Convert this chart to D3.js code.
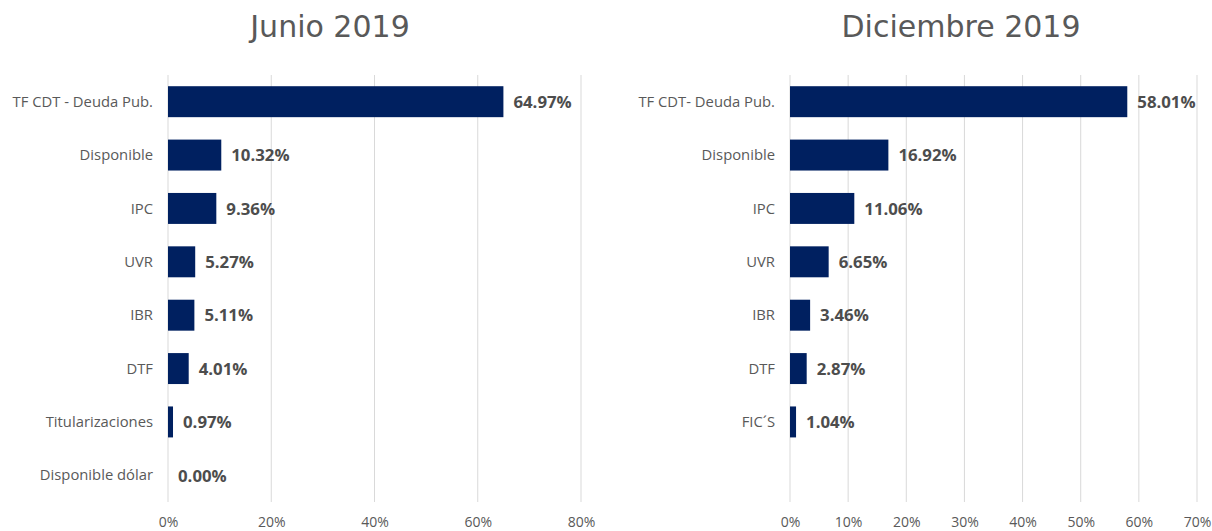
<!DOCTYPE html>
<html>
<head>
<meta charset="utf-8">
<script src="https://cdn.jsdelivr.net/npm/d3@7"></script>
<style>
  body { margin: 0; background: #fff; }
  svg { display: block; }
</style>
</head>
<body>
<svg class="chart" width="1212" height="531"></svg>
<script>
// data
let juneCategories = ["TF CDT - Deuda Pub.", "Disponible", "IPC", "UVR", "IBR", "DTF", "Titularizaciones", "Disponible dólar"];
let juneValues = [64.97, 10.32, 9.36, 5.27, 5.11, 4.01, 0.97, 0.00];
let juneTicks = [0, 20, 40, 60, 80];

let decCategories = ["TF CDT- Deuda Pub.", "Disponible", "IPC", "UVR", "IBR", "DTF", "FIC\u00b4S"];
let decValues = [58.01, 16.92, 11.06, 6.65, 3.46, 2.87, 1.04];
let decTicks = [0, 10, 20, 30, 40, 50, 60, 70];

let rows = 8; // both panels use the same row slots

let svg = d3.select(".chart");

let drawPanel = function(opts)
{
  let g = svg.append("g");

  let x = d3.scaleLinear()
    .domain([0, d3.max(opts.ticks)])
    .range([opts.left, opts.right]);

  let y = d3.scaleBand()
    .domain(d3.range(rows))
    .range([opts.top, opts.bottom])
    .paddingInner(0.42)
    .paddingOuter(0.21);

  // gridlines
  g.selectAll("line.grid")
    .data(opts.ticks)
    .join("line")
      .attr("class", "grid")
      .attr("x1", d => x(d)).attr("x2", d => x(d))
      .attr("y1", opts.top).attr("y2", opts.bottom)
      .attr("stroke", "#d9d9d9")
      .attr("stroke-width", 1);

  // x axis labels
  let xAxis = d3.axisBottom(x)
    .tickValues(opts.ticks)
    .tickFormat(d => d + "%")
    .tickSize(0)
    .tickPadding(0);
  let xg = g.append("g")
    .attr("transform", translate(0, opts.bottom + 15))
    .call(xAxis);
  xg.select(".domain").remove();
  xg.selectAll("text")
    .attr("font-family", "'Open Sans', sans-serif")
    .attr("font-size", 14)
    .attr("fill", "#595959");

  // category labels
  g.selectAll("text.cat")
    .data(opts.categories)
    .join("text")
      .attr("class", "cat")
      .attr("x", x(0) - 15)
      .attr("y", (d, i) => y(i) + y.bandwidth() / 2)
      .attr("dy", "0.35em")
      .attr("text-anchor", "end")
      .attr("font-family", "'Open Sans', sans-serif")
      .attr("font-size", 14.8)
      .attr("fill", "#595959")
      .text(d => d);

  // bars
  g.selectAll("rect.bar")
    .data(opts.values)
    .join("rect")
      .attr("class", "bar")
      .attr("x", x(0))
      .attr("y", (d, i) => y(i))
      .attr("width", d => x(d) - x(0))
      .attr("height", y.bandwidth())
      .attr("fill", "#002060");

  // value labels
  g.selectAll("text.val")
    .data(opts.values)
    .join("text")
      .attr("class", "val")
      .attr("x", d => x(d) + 10)
      .attr("y", (d, i) => y(i) + y.bandwidth() / 2)
      .attr("dy", "0.37em")
      .attr("font-family", "'Open Sans', sans-serif")
      .attr("font-weight", "bold")
      .attr("font-size", 16.8)
      .attr("fill", "#4d4d4d")
      .text(d => d.toFixed(2) + "%");

  // title
  svg.append("text")
    .attr("x", opts.titleX)
    .attr("y", 37)
    .attr("text-anchor", "middle")
    .attr("font-family", "'DejaVu Sans', Verdana, sans-serif")
    .attr("font-size", 30)
    .attr("fill", "#595959")
    .text(opts.title);
};

drawPanel({
  title: "Junio 2019", titleX: 330,
  categories: juneCategories, values: juneValues, ticks: juneTicks,
  left: 168, right: 581, top: 75, bottom: 502
});

drawPanel({
  title: "Diciembre 2019", titleX: 961,
  categories: decCategories, values: decValues, ticks: decTicks,
  left: 790, right: 1197, top: 75, bottom: 502
});

function translate(x, y) {
  return 'translate(' + x + ',' + y + ')';
}
</script>
</body>
</html>
